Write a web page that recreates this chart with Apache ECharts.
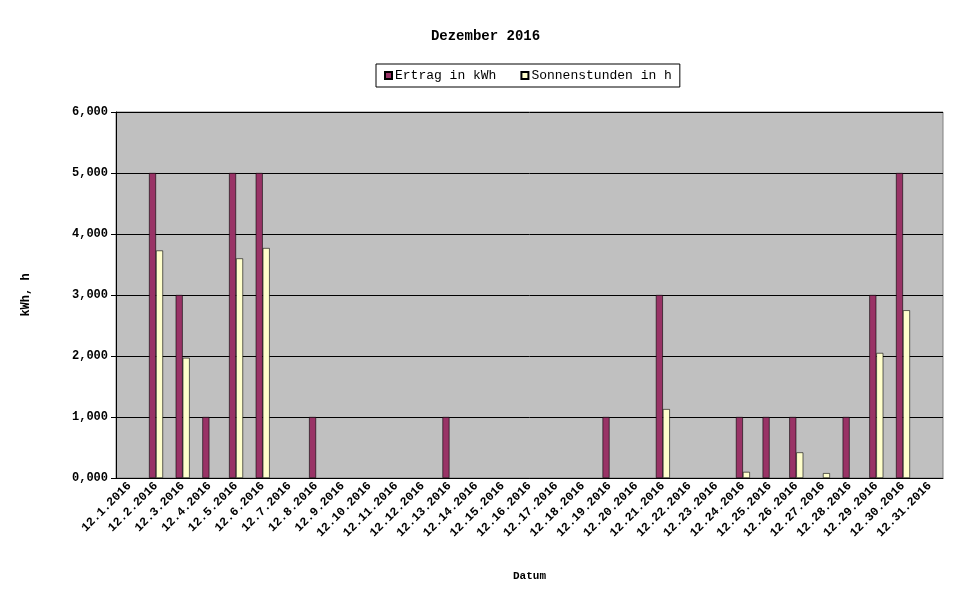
<!DOCTYPE html>
<html>
<head>
<meta charset="utf-8">
<script src="https://cdn.jsdelivr.net/npm/echarts@6/dist/echarts.min.js"></script>
<style>
  html, body { margin: 0; padding: 0; background: #fff; }
  #chart { width: 971px; height: 605px; }
</style>
</head>
<body>
<div id="chart"></div>
<script>
"use strict";

var days = [];
for (var d = 1; d <= 31; d++) {
  days.push("12." + d + ".2016");
}
// Ertrag in kWh (null = kein Balken)
var ertrag = [null, 5, 3, 1, 5, 5, null, 1, null, null, null, null, 1, null, null, null, null, null, 1, null, 3, null, null, 1, 1, 1, null, 1, 3, 5, null];
// Sonnenstunden in h
var sonne = [null, 3.73, 1.97, null, 3.6, 3.77, null, null, null, null, null, null, null, null, null, null, null, null, null, null, 1.13, null, null, 0.1, null, 0.42, 0.08, null, 2.05, 2.75, null];
var yTicks = [0, 1, 2, 3, 4, 5, 6];

var font = "'Courier New', 'Liberation Mono', 'DejaVu Sans Mono', monospace";

var chart = echarts.init(document.getElementById("chart"));
var option = {
  backgroundColor: "#ffffff",
  animation: false,
  textStyle: { fontFamily: font, color: "#000" },
  title: {
    text: "Dezember 2016",
    left: "center",
    top: 24,
    textStyle: { fontFamily: font, fontSize: 14, fontWeight: "bold", color: "#000" }
  },
  legend: {
    top: 64,
    left: 376,
    width: 318,
    padding: [5, 8],
    itemGap: 24,
    itemWidth: 7,
    itemHeight: 7,
    icon: "rect",
    borderColor: "#000",
    borderWidth: 1,
    textStyle: { fontFamily: font, fontSize: 13, color: "#000", padding: [0, 0, 0, -2] },
    data: ["Ertrag in kWh", "Sonnenstunden in h"]
  },
  grid: {
    left: 116,
    right: 28,
    top: 112,
    bottom: 127,
    show: true,
    backgroundColor: "#c0c0c0",
    borderColor: "#808080",
    borderWidth: 1
  },
  xAxis: {
    type: "category",
    data: days,
    name: "Datum",
    nameLocation: "middle",
    nameGap: 93,
    nameTextStyle: { fontFamily: font, fontSize: 11, fontWeight: "bold", color: "#000" },
    axisLine: { lineStyle: { color: "#000" } },
    axisTick: { lineStyle: { color: "#000" } },
    axisLabel: {
      interval: 0,
      rotate: 45,
      fontFamily: font,
      fontSize: 12,
      fontWeight: "bold",
      color: "#000",
      margin: 6
    }
  },
  yAxis: {
    type: "value",
    min: 0,
    max: 6,
    interval: 1,
    name: "kWh, h",
    nameLocation: "middle",
    nameGap: 84,
    nameTextStyle: { fontFamily: font, fontSize: 12, fontWeight: "bold", color: "#000" },
    axisLine: { show: true, lineStyle: { color: "#000" } },
    axisTick: { show: true, lineStyle: { color: "#000" } },
    splitLine: { lineStyle: { color: "#000", width: 1 } },
    axisLabel: {
      fontFamily: font,
      fontSize: 12,
      fontWeight: "bold",
      color: "#000",
      formatter: function (v) {
        return yTicks.indexOf(v) >= 0 ? v + ",000" : "";
      }
    }
  },
  series: [{
    name: "Ertrag in kWh",
    type: "bar",
    data: ertrag,
    barWidth: 7,
    barGap: "0%",
    itemStyle: { color: "#993366", borderColor: "#000", borderWidth: 0.6 }
  }, {
    name: "Sonnenstunden in h",
    type: "bar",
    data: sonne,
    barWidth: 7,
    itemStyle: { color: "#ffffcc", borderColor: "#000", borderWidth: 0.6 }
  }]
};
chart.setOption(option);
</script>
</body>
</html>
